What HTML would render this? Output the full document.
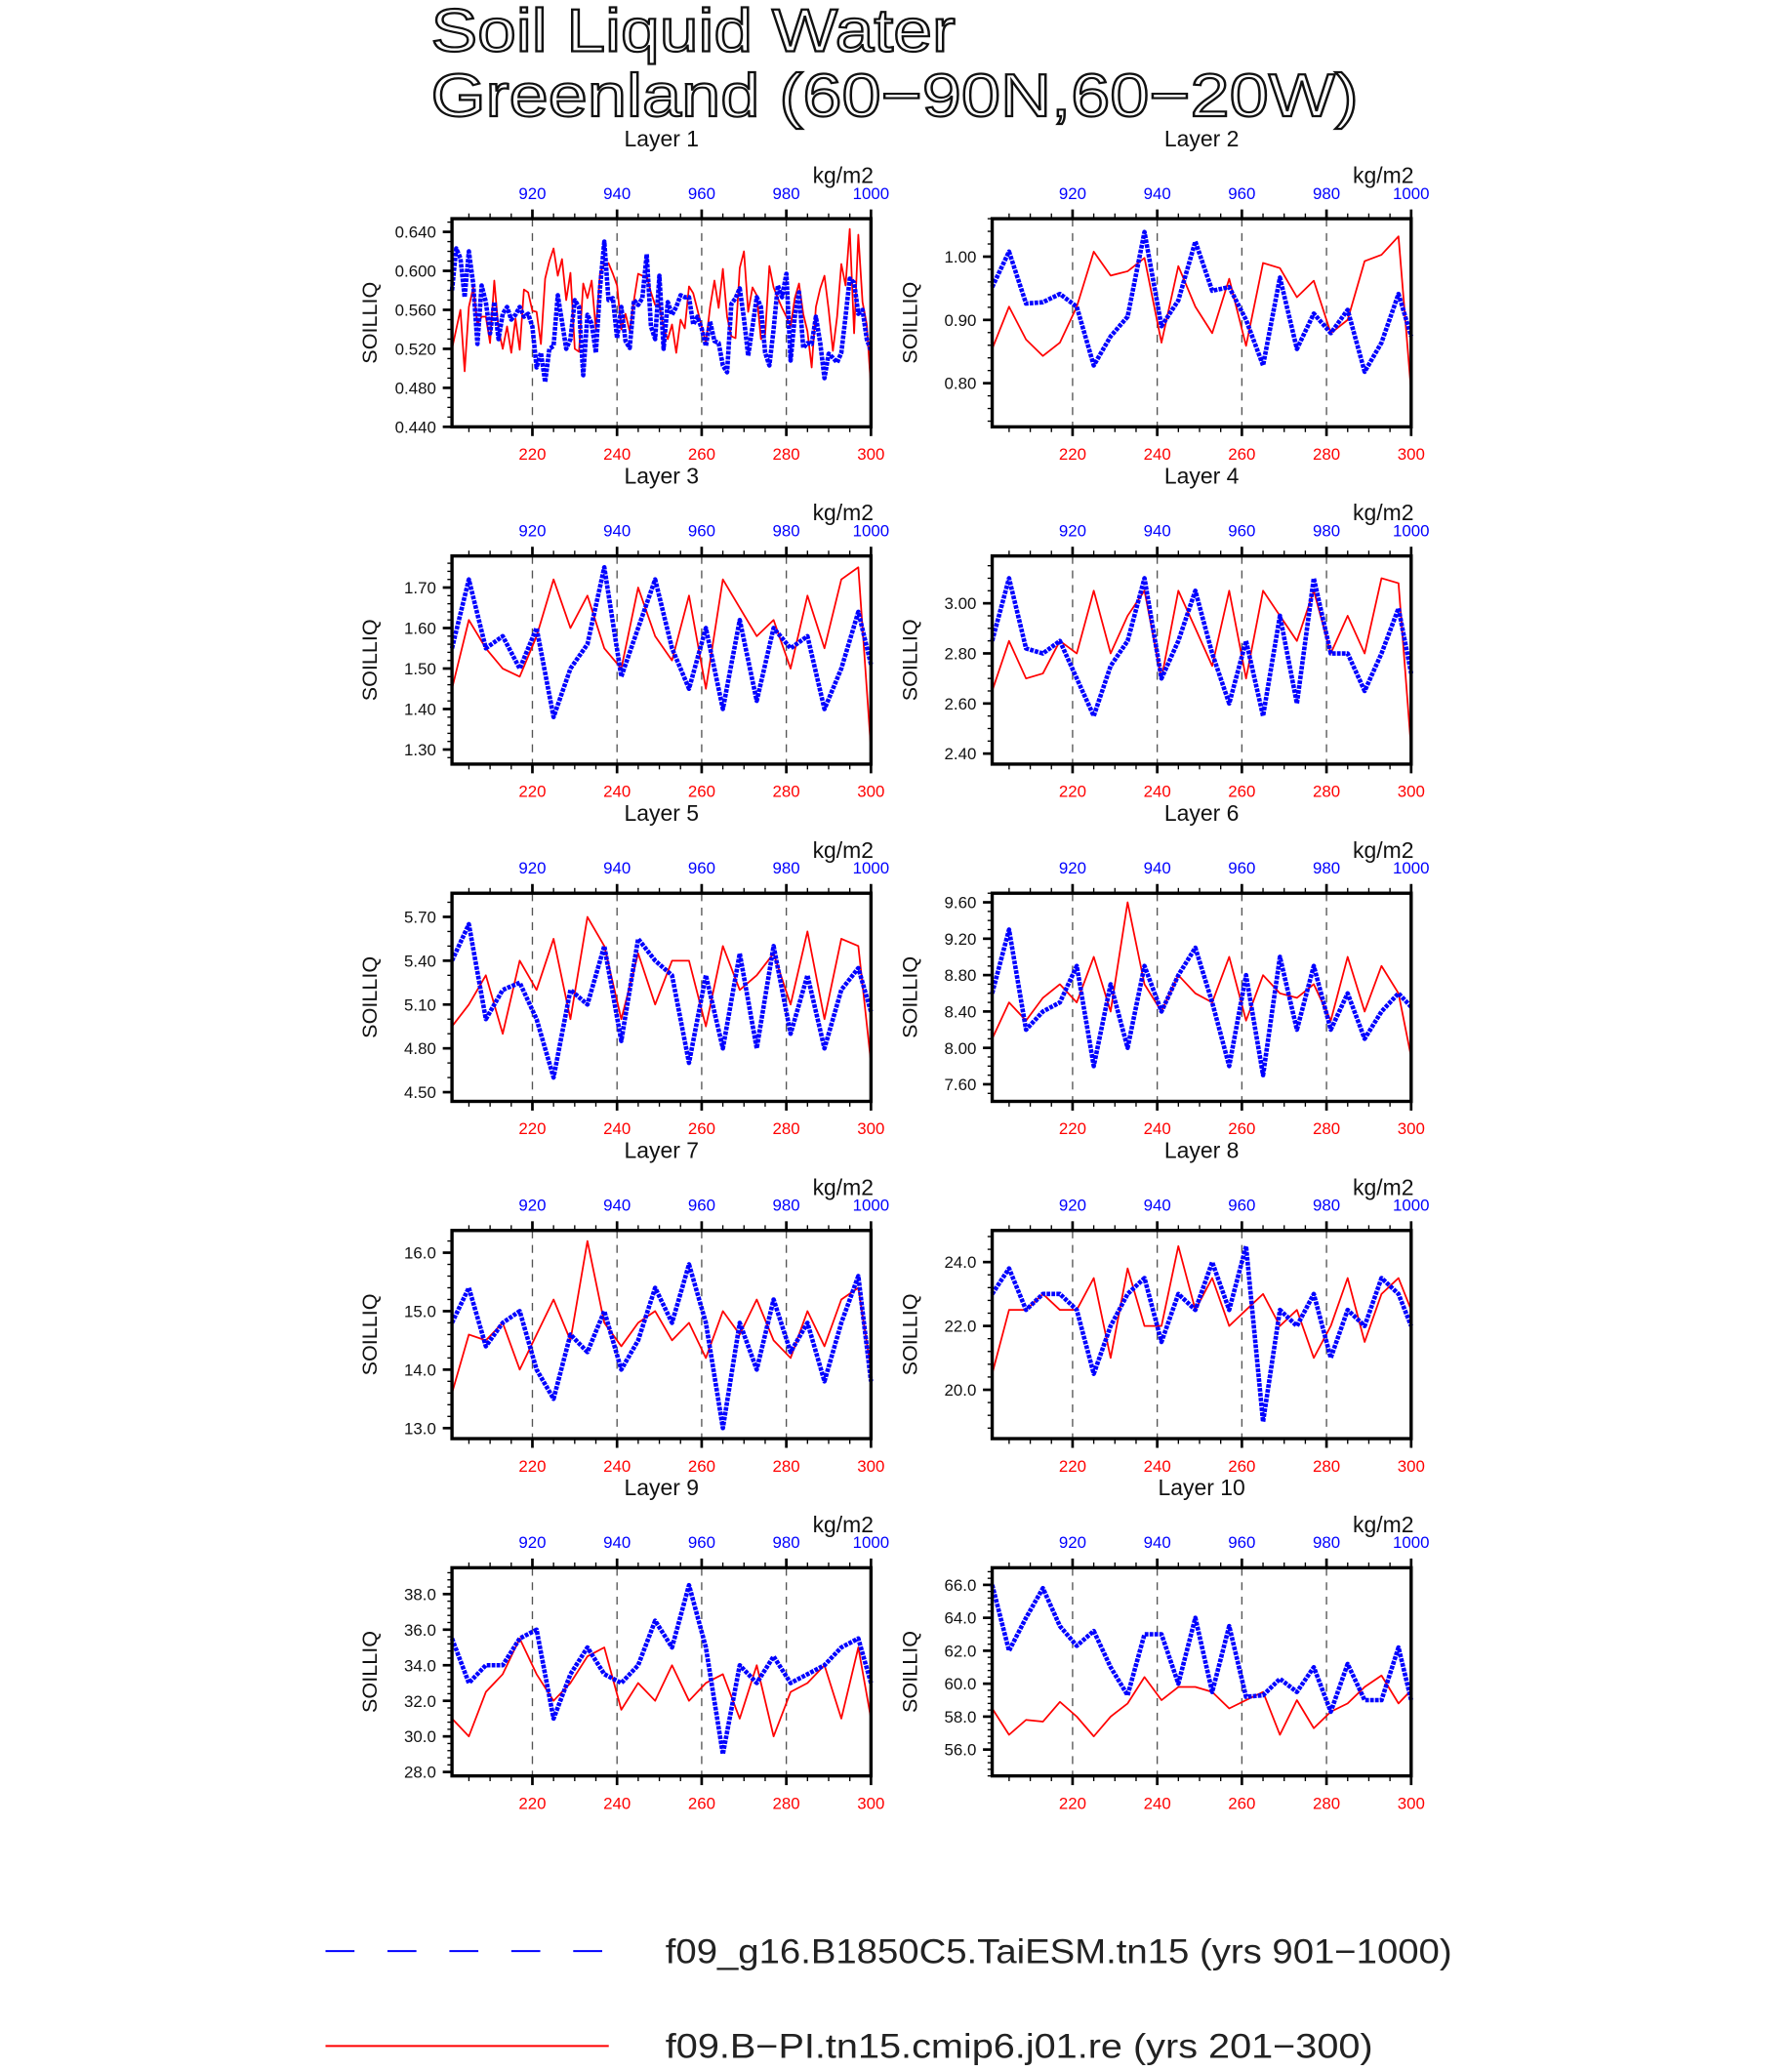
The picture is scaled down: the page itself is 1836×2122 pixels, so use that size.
<!DOCTYPE html>
<html><head><meta charset="utf-8"><style>html,body{margin:0;padding:0;background:#fff}svg{display:block}</style></head>
<body>
<svg id="fig" width="1836" height="2122" viewBox="0 0 1360 1572" xmlns="http://www.w3.org/2000/svg" font-family="'Liberation Sans', sans-serif">
<rect width="1360" height="1572" fill="#fff"/>
<text x="327" y="39" font-size="46" textLength="398" lengthAdjust="spacingAndGlyphs" fill="#fff" stroke="#111" stroke-width="1.6">Soil Liquid Water</text>
<text x="327" y="88" font-size="46" textLength="704" lengthAdjust="spacingAndGlyphs" fill="#fff" stroke="#111" stroke-width="1.6">Greenland (60−90N,60−20W)</text>
<g id="panels"></g>
<g>
<line x1="247" y1="1481" x2="462" y2="1481" stroke="#0000ff" stroke-width="1.5" stroke-dasharray="22 25"/>
<text x="505" y="1490" font-size="26" fill="#222" textLength="597" lengthAdjust="spacingAndGlyphs">f09_g16.B1850C5.TaiESM.tn15 (yrs 901−1000)</text>
<line x1="247" y1="1553" x2="462" y2="1553" stroke="#ff0000" stroke-width="1.5"/>
<text x="505" y="1562" font-size="26" fill="#222" textLength="537" lengthAdjust="spacingAndGlyphs">f09.B−PI.tn15.cmip6.j01.re (yrs 201−300)</text>
</g>
</svg>
<script>
// ---- data ----
var yearsCoarse = [201,205,209,213,217,221,225,229,233,237,241,245,249,253,257,261,265,269,273,277,281,285,289,293,297,300];
var layerNames = ["Layer 1","Layer 2","Layer 3","Layer 4","Layer 5","Layer 6","Layer 7","Layer 8","Layer 9","Layer 10"];
var redL1 = [0.520,0.540,0.560,0.497,0.563,0.583,0.545,0.553,0.553,0.526,0.590,0.540,0.520,0.543,0.516,0.551,0.519,0.581,0.578,0.559,0.558,0.525,0.592,0.610,0.623,0.595,0.612,0.570,0.598,0.520,0.517,0.587,0.572,0.590,0.540,0.598,0.607,0.608,0.597,0.585,0.540,0.556,0.538,0.570,0.597,0.595,0.595,0.578,0.565,0.566,0.541,0.530,0.545,0.516,0.550,0.541,0.584,0.577,0.560,0.543,0.526,0.563,0.590,0.562,0.602,0.553,0.533,0.531,0.603,0.620,0.558,0.583,0.575,0.530,0.535,0.605,0.583,0.572,0.562,0.553,0.543,0.572,0.587,0.556,0.538,0.501,0.563,0.582,0.595,0.560,0.518,0.553,0.607,0.585,0.643,0.536,0.637,0.568,0.545,0.480];
var blueL1 = [0.580,0.623,0.613,0.573,0.620,0.587,0.525,0.585,0.568,0.536,0.568,0.530,0.556,0.563,0.550,0.555,0.563,0.553,0.556,0.543,0.501,0.516,0.486,0.520,0.523,0.575,0.548,0.520,0.530,0.570,0.563,0.493,0.555,0.546,0.516,0.583,0.630,0.570,0.572,0.531,0.563,0.528,0.521,0.570,0.565,0.572,0.617,0.543,0.530,0.595,0.520,0.568,0.555,0.563,0.575,0.573,0.573,0.545,0.553,0.541,0.523,0.548,0.528,0.526,0.503,0.496,0.566,0.572,0.582,0.551,0.513,0.543,0.573,0.563,0.516,0.503,0.540,0.585,0.573,0.597,0.508,0.553,0.578,0.521,0.526,0.525,0.553,0.526,0.490,0.515,0.511,0.506,0.516,0.553,0.592,0.588,0.556,0.560,0.530,0.518];
var redL2 = [0.854,0.921,0.869,0.843,0.864,0.921,1.008,0.970,0.977,0.998,0.864,0.985,0.921,0.879,0.965,0.859,0.990,0.982,0.936,0.962,0.879,0.900,0.993,1.003,1.032,0.787];
var blueL2 = [0.952,1.008,0.926,0.928,0.941,0.921,0.828,0.874,0.905,1.039,0.890,0.931,1.024,0.946,0.952,0.900,0.828,0.967,0.854,0.910,0.879,0.916,0.818,0.864,0.941,0.874];
var redL3 = [1.45,1.62,1.55,1.50,1.48,1.58,1.72,1.60,1.68,1.55,1.50,1.70,1.58,1.52,1.68,1.45,1.72,1.65,1.58,1.62,1.50,1.68,1.55,1.72,1.75,1.30];
var blueL3 = [1.55,1.72,1.55,1.58,1.50,1.60,1.38,1.50,1.56,1.75,1.48,1.60,1.72,1.55,1.45,1.60,1.40,1.62,1.42,1.60,1.55,1.58,1.40,1.50,1.64,1.51];
var redL4 = [2.65,2.85,2.70,2.72,2.85,2.80,3.05,2.80,2.95,3.05,2.70,3.05,2.90,2.75,3.05,2.70,3.05,2.95,2.85,3.05,2.80,2.95,2.80,3.10,3.08,2.42];
var blueL4 = [2.85,3.10,2.82,2.80,2.85,2.70,2.55,2.75,2.85,3.10,2.70,2.85,3.05,2.80,2.60,2.85,2.55,2.95,2.60,3.10,2.80,2.80,2.65,2.80,2.98,2.72];
var redL5 = [4.95,5.10,5.30,4.90,5.40,5.20,5.55,5.00,5.70,5.50,5.00,5.45,5.10,5.40,5.40,4.95,5.50,5.20,5.30,5.45,5.10,5.60,5.00,5.55,5.50,4.70];
var blueL5 = [5.40,5.65,5.00,5.20,5.25,5.00,4.60,5.20,5.10,5.50,4.85,5.55,5.40,5.30,4.70,5.30,4.80,5.45,4.80,5.50,4.90,5.30,4.80,5.20,5.35,5.05];
var redL6 = [8.10,8.50,8.30,8.55,8.70,8.50,9.00,8.40,9.60,8.70,8.40,8.80,8.60,8.50,9.00,8.30,8.80,8.60,8.55,8.70,8.30,9.00,8.40,8.90,8.60,7.90];
var blueL6 = [8.60,9.30,8.20,8.40,8.50,8.90,7.80,8.70,8.00,8.90,8.40,8.80,9.10,8.50,7.80,8.80,7.70,9.00,8.20,8.90,8.20,8.60,8.10,8.40,8.60,8.45];
var redL7 = [13.6,14.6,14.5,14.8,14.0,14.6,15.2,14.5,16.2,14.8,14.4,14.8,15.0,14.5,14.8,14.2,15.0,14.6,15.2,14.5,14.2,15.0,14.4,15.2,15.4,14.0];
var blueL7 = [14.8,15.4,14.4,14.8,15.0,14.0,13.5,14.6,14.3,15.0,14.0,14.5,15.4,14.8,15.8,14.8,13.0,14.8,14.0,15.2,14.3,14.8,13.8,14.8,15.6,13.8];
var redL8 = [20.5,22.5,22.5,23.0,22.5,22.5,23.5,21.0,23.8,22.0,22.0,24.5,22.5,23.5,22.0,22.5,23.0,22.0,22.5,21.0,22.0,23.5,21.5,23.0,23.5,22.5];
var blueL8 = [23.0,23.8,22.5,23.0,23.0,22.5,20.5,22.0,23.0,23.5,21.5,23.0,22.5,24.0,22.5,24.5,19.0,22.5,22.0,23.0,21.0,22.5,22.0,23.5,23.0,22.0];
var redL9 = [31.0,30.0,32.5,33.5,35.5,33.5,32.0,33.0,34.5,35.0,31.5,33.0,32.0,34.0,32.0,33.0,33.5,31.0,34.0,30.0,32.5,33.0,34.0,31.0,35.0,31.0];
var blueL9 = [35.5,33.0,34.0,34.0,35.5,36.0,31.0,33.5,35.0,33.5,33.0,34.0,36.5,35.0,38.5,35.0,29.0,34.0,33.0,34.5,33.0,33.5,34.0,35.0,35.5,33.0];
var redL10 = [58.5,56.9,57.8,57.7,58.9,58.0,56.8,58.0,58.8,60.4,59.0,59.8,59.8,59.5,58.5,59.0,59.5,56.9,59.0,57.3,58.3,58.8,59.8,60.5,58.8,59.6];
var blueL10 = [66.0,62.0,64.0,65.8,63.5,62.3,63.2,61.0,59.3,63.0,63.0,60.0,64.0,59.5,63.5,59.2,59.3,60.3,59.5,61.0,58.3,61.2,59.0,59.0,62.2,59.0];
var yMinTicks = [0.44,0.80,1.30,2.40,4.50,7.60,13.0,20.0,28.0,56.0];
var yMaxTicks = [0.64,1.00,1.70,3.00,5.70,9.60,16.0,24.0,38.0,66.0];
var yMajorStep = [0.04,0.1,0.1,0.2,0.3,0.4,1,2,2,2];
var yMinorStep = [0.01,0.02,0.02,0.05,0.1,0.1,0.2,0.4,0.4,0.4];
var yDecimals = [3,2,2,2,2,2,1,1,1,1];
var yDomLo = [0.440,0.731,1.264,2.358,4.437,7.412,12.82,18.47,27.78,54.4];
var yDomHi = [0.6535,1.06,1.778,3.189,5.862,9.70,16.38,24.99,39.48,67.04];
var bottomTicks = ["220","240","260","280","300"];
var topTicks = ["920","940","960","980","1000"];

var redSeries = [redL1,redL2,redL3,redL4,redL5,redL6,redL7,redL8,redL9,redL10];
var blueSeries = [blueL1,blueL2,blueL3,blueL4,blueL5,blueL6,blueL7,blueL8,blueL9,blueL10];

var NS = "http://www.w3.org/2000/svg";
var root = document.getElementById("panels");
function mk(tag, attrs, parent){ var e=document.createElementNS(NS,tag); for(var k in attrs) e.setAttribute(k,attrs[k]); parent.appendChild(e); return e; }

for (var p=0;p<10;p++){
  var col=p%2, row=Math.floor(p/2);
  var L = col? 753:343, R = L+318, T = 166+row*256, B = T+158;
  var g = mk("g",{},root);
  
  
  var xs = function(yr){ return L + (yr-201)*(R-L)/99; };
  var lo=yDomLo[p], hi=yDomHi[p];
  var ys = (function(lo,hi,T,B){return function(v){ return B - (v-lo)/(hi-lo)*(B-T); };})(lo,hi,T,B);
  var t = mk("text",{x:(L+R)/2, y:T-55, "font-size":17, "text-anchor":"middle", fill:"#111"},g);
  t.textContent = layerNames[p];
  
  
  var u = mk("text",{x:R+2, y:T-27, "font-size":17, "text-anchor":"end", fill:"#111"},g);
  u.textContent = "kg/m2";
  
  
  var yl = mk("text",{x:0,y:0,"font-size":16,"text-anchor":"middle",fill:"#111",transform:"translate("+(L-57)+","+((T+B)/2)+") rotate(-90)"},g);
  yl.textContent = "SOILLIQ";
  
  
  for (var yr=205; yr<=300; yr+=5){
    var x = xs(yr), major = (yr%20===0);
    mk("line",{x1:x,y1:T,x2:x,y2:T-(major?7:4),stroke:"#000","stroke-width":major?2:1},g);
    mk("line",{x1:x,y1:B,x2:x,y2:B+(major?7:4),stroke:"#000","stroke-width":major?2:1},g);
  }
  for (var k=0;k<bottomTicks.length;k++){
    var yv = +bottomTicks[k], x = xs(yv);
    if (yv<300){
      var gl = mk("line",{x1:x,y1:T,x2:x,y2:B,stroke:"#555","stroke-width":1,"stroke-dasharray":"6 5"},g);
      
      
    }
    var bt = mk("text",{x:x,y:B+25,"font-size":12.5,"text-anchor":"middle",fill:"#ff0000"},g);
    bt.textContent = bottomTicks[k];
    
    
    var tt = mk("text",{x:x,y:T-15,"font-size":12.5,"text-anchor":"middle",fill:"#0000ff"},g);
    tt.textContent = topTicks[k];
    
    
  }
  var ms = yMinorStep[p];
  for (var v=Math.ceil(lo/ms-1e-6)*ms; v<=hi+1e-9; v+=ms){
    var yy=ys(v); if(yy<T-0.5||yy>B+0.5) continue;
    mk("line",{x1:L,y1:yy,x2:L-3.5,y2:yy,stroke:"#000","stroke-width":1},g);
  }
  for (var v=yMinTicks[p]; v<=yMaxTicks[p]+1e-9; v+=yMajorStep[p]){
    var yy=ys(v);
    mk("line",{x1:L,y1:yy,x2:L-7,y2:yy,stroke:"#000","stroke-width":2},g);
    var yt = mk("text",{x:L-12,y:yy+4.5,"font-size":12.5,"text-anchor":"end",fill:"#111"},g);
    yt.textContent = v.toFixed(yDecimals[p]);
    
    
  }
  var rs = redSeries[p], bs = blueSeries[p];
  var yrsArr = rs.length===100 ? null : yearsCoarse;
  var ptsR=[], ptsB=[];
  for (var i=0;i<rs.length;i++){ var yr = yrsArr? yrsArr[i] : 201+i; ptsR.push(xs(yr).toFixed(1)+","+ys(rs[i]).toFixed(1)); }
  for (var i=0;i<bs.length;i++){ var yr = yrsArr? yrsArr[i] : 201+i; ptsB.push(xs(yr).toFixed(1)+","+ys(bs[i]).toFixed(1)); }
  var pr = mk("polyline",{points:ptsR.join(" "),fill:"none",stroke:"#ff0000","stroke-width":1.3,"stroke-linejoin":"round"},g);
  
  
  var pb = mk("polyline",{points:ptsB.join(" "),fill:"none",stroke:"#0000ff","stroke-width":3.4,"stroke-dasharray":"2.8 0.9","stroke-linejoin":"round"},g);
  
  
  var fr = mk("rect",{x:L,y:T,width:R-L,height:B-T,fill:"none",stroke:"#000","stroke-width":2.5},g);
  
  
}
</script>
</body></html>
